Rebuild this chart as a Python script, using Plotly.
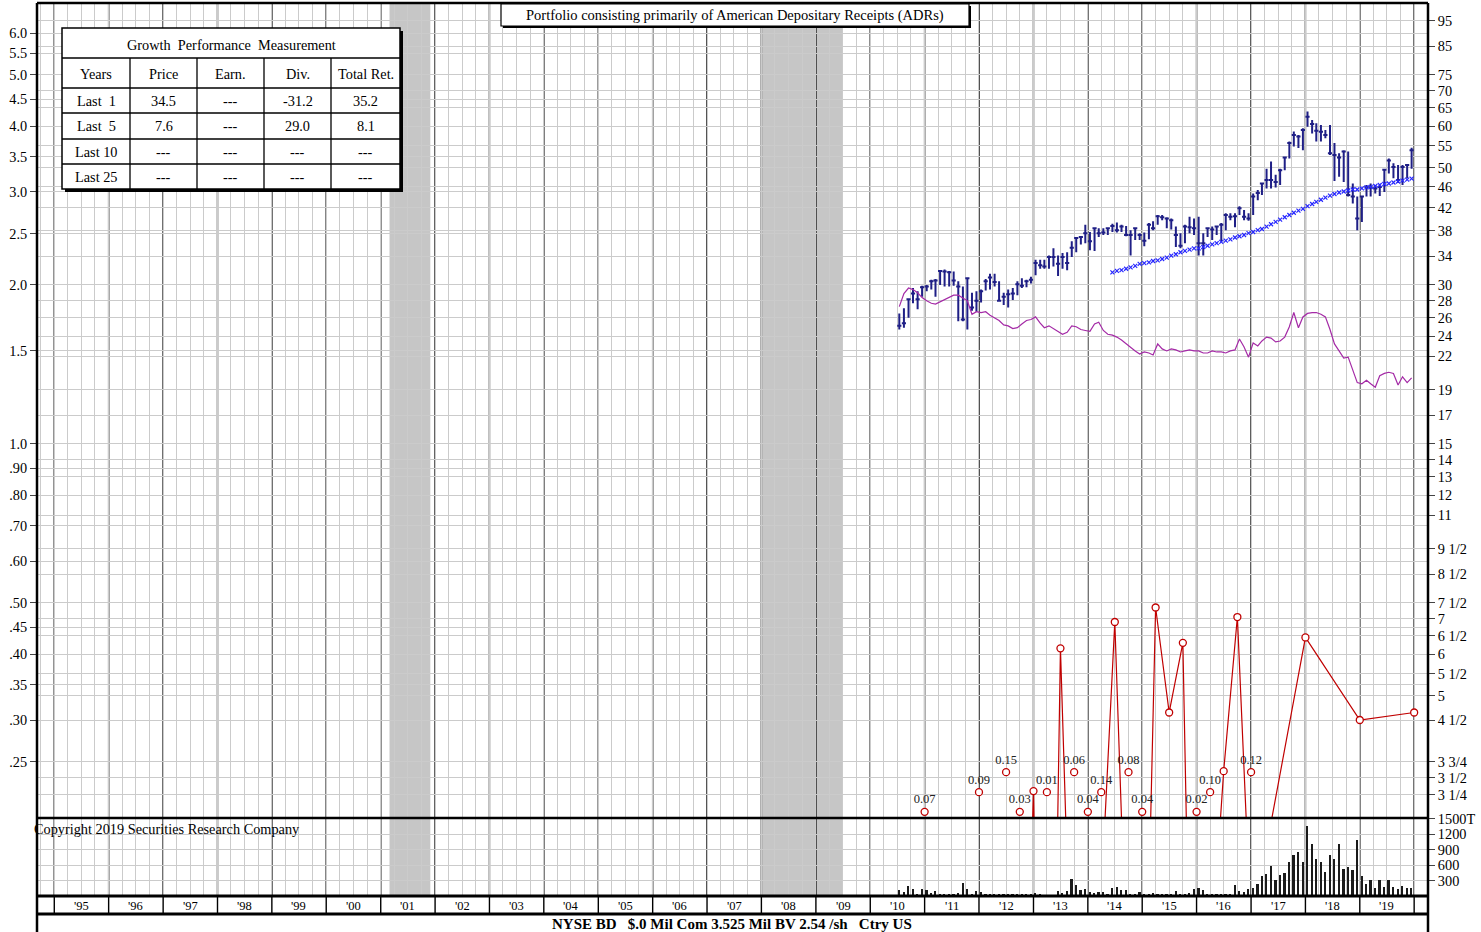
import math
import pandas as pd
import plotly.graph_objects as go

# ---------------- data ----------------
bar_months = pd.date_range("2010-07-01", periods=114, freq="MS") + pd.Timedelta(days=14)

price_high = [26.5,27.1,28.3,29.6,29.2,29.9,30.0,30.7,30.8,32.0,
              32.1,31.9,31.8,30.5,29.8,31.0,29.0,29.2,29.4,30.8,
              31.5,31.5,30.5,29.0,29.4,29.6,30.5,30.9,30.7,31.1,
              33.5,33.5,33.5,34.1,35.2,34.1,34.5,34.6,36.3,37.0,
              37.1,39.0,37.8,38.4,38.4,38.4,38.5,39.2,39.4,39.0,
              38.8,38.1,38.4,37.6,37.7,39.3,39.6,40.7,40.7,40.3,
              40.1,38.7,37.6,39.0,40.4,40.1,40.4,37.6,38.4,38.7,
              38.8,39.3,41.0,41.0,41.0,42.3,41.6,41.0,44.7,45.4,
              46.8,49.8,51.4,48.5,49.8,52.5,56.1,58.6,57.7,59.4,
              63.9,61.6,60.7,60.3,59.0,60.3,55.7,53.3,54.0,53.7,
              46.7,44.1,44.2,46.4,46.7,46.4,46.2,49.8,52.1,51.0,
              50.6,50.6,50.6,54.6]
price_low = [24.7,24.9,26.0,27.7,27.0,28.5,29.2,29.4,28.5,30.0,
             29.8,29.8,29.9,25.6,25.6,24.7,26.8,26.7,27.8,29.3,
             29.4,29.8,27.9,27.5,27.2,28.1,28.7,29.6,29.7,30.2,
             31.3,32.2,32.2,32.2,32.5,31.2,32.2,32.0,33.9,34.6,
             35.8,36.0,34.9,34.8,37.0,37.3,37.3,37.8,37.7,37.8,
             37.1,34.1,36.5,36.5,35.5,36.6,38.1,39.0,39.8,38.4,
             38.2,35.4,35.2,36.0,37.6,37.3,34.1,34.1,37.0,36.5,
             37.3,36.3,38.1,39.8,38.6,40.7,39.8,39.7,40.7,43.4,
             44.4,45.7,45.7,45.9,46.4,49.5,52.1,54.9,54.5,54.0,
             59.8,58.1,56.1,56.1,56.9,52.9,47.2,48.1,47.0,44.1,
             42.8,38.1,39.5,44.1,44.1,44.7,44.2,45.0,48.8,47.8,
             46.8,46.4,47.8,49.8]
price_close = [25.1,25.4,28.2,28.9,28.2,29.7,29.8,30.5,30.6,31.9,
               31.8,31.7,30.6,29.8,25.8,30.9,27.2,28.0,29.2,30.5,
               31.0,30.4,28.0,28.5,28.8,28.9,30.1,29.9,30.5,30.7,
               33.0,32.7,32.5,33.9,33.9,32.9,33.9,33.0,35.3,36.8,
               37.0,37.6,36.3,38.4,37.6,37.7,38.4,38.8,38.1,38.7,
               37.3,37.3,38.4,37.3,36.4,39.0,38.4,40.5,40.3,40.1,
               39.8,37.3,35.6,38.7,38.6,38.4,36.0,36.0,38.4,38.2,
               38.7,39.0,40.7,40.4,40.5,41.9,40.4,40.1,44.1,44.8,
               46.7,47.4,47.4,47.0,49.5,52.3,55.7,57.7,57.3,59.0,
               62.5,60.5,58.8,58.5,57.7,53.3,52.9,52.3,53.7,44.4,
               44.1,40.1,44.1,46.0,45.9,45.7,46.0,49.6,51.6,50.2,
               47.4,50.2,50.6,54.0]
rel_strength = [27.3,28.9,29.6,29.4,29.0,28.4,28.0,27.7,27.6,27.9,
                28.2,28.5,28.7,28.7,28.3,28.0,26.4,26.7,26.6,26.7,
                26.3,26.0,25.7,25.2,25.1,24.8,24.9,25.3,25.7,25.8,
                26.1,25.4,24.9,25.1,24.8,24.5,24.2,24.4,25.1,25.0,
                24.7,24.6,24.5,25.3,25.5,24.6,24.2,24.1,23.9,23.6,
                23.2,22.9,22.5,22.2,22.4,22.3,22.1,23.2,22.7,22.5,
                22.7,22.6,22.4,22.5,22.6,22.5,22.5,22.3,22.3,22.5,
                22.4,22.4,22.3,22.5,22.6,23.7,22.9,21.9,23.3,23.0,
                23.5,23.9,23.8,23.4,23.5,23.9,25.0,26.6,24.9,26.1,
                26.5,26.6,26.6,26.4,26.1,24.7,23.2,22.5,21.8,21.9,
                20.6,19.6,19.5,19.8,19.5,19.2,20.2,20.4,20.5,20.4,
                19.4,20.1,19.6,20.0]
volume = [116,71,194,129,40,129,110,52,97,35,
          35,25,25,50,258,135,35,103,71,30,
          25,20,20,20,20,30,25,25,20,35,
          58,35,15,15,15,90,52,90,323,206,
          116,135,84,50,77,84,40,161,181,116,
          116,40,40,77,25,25,50,25,25,35,
          35,97,45,26,58,142,161,123,45,40,
          32,45,40,32,206,100,77,142,161,239,
          380,432,593,303,400,445,658,806,851,658,
          1367,1013,722,658,464,800,722,1013,529,561,
          497,1097,380,239,303,161,303,174,316,174,
          142,187,161,161]

ma_months = pd.date_range("2014-06-01", periods=67, freq="MS") + pd.Timedelta(days=14)
moving_avg = [31.7,31.9,32.0,32.2,32.4,32.6,32.9,
              33.0,33.1,33.3,33.4,33.6,33.8,34.1,34.3,34.6,34.8,35.0,35.2,
              35.2,35.4,35.6,35.8,36.0,36.2,36.4,36.6,36.9,37.1,37.3,37.6,
              37.8,38.1,38.3,38.7,39.1,39.5,39.9,40.3,40.7,41.1,41.5,41.8,
              42.3,42.7,43.1,43.5,43.9,44.3,44.6,44.9,45.1,45.3,45.5,45.5,
              45.7,45.9,46.0,46.2,46.4,46.6,46.7,46.9,47.1,47.3,47.5,47.7]

div_dates = ["2011-01-01","2012-01-01","2012-07-01","2012-10-01","2013-01-01","2013-04-01",
             "2013-07-01","2013-10-01","2014-01-01","2014-04-01","2014-07-01","2014-10-01",
             "2015-01-01","2015-04-01","2015-07-01","2015-10-01","2016-01-01","2016-04-01",
             "2016-07-01","2016-10-01","2017-01-01","2018-01-01","2019-01-01","2020-01-01"]
div_values = [0.07,0.09,0.15,0.03,0.22,0.01,0.41,0.06,0.04,0.14,0.46,0.08,
              0.04,0.49,0.31,0.42,0.02,0.10,0.24,0.47,0.12,0.43,0.30,0.31]

right_ticks = [95,85,75,70,65,60,55,50,46,42,38,34,30,28,26,24,22,19,17,15,14,13,12,11,
               9.5,8.5,7.5,7,6.5,6,5.5,5,4.5,3.75,3.5,3.25]
right_labels = ["95","85","75","70","65","60","55","50","46","42","38","34","30","28","26","24",
                "22","19","17","15","14","13","12","11","9 1/2","8 1/2","7 1/2","7","6 1/2","6",
                "5 1/2","5","4 1/2","3 3/4","3 1/2","3 1/4"]
left_ticks = [6.0,5.5,5.0,4.5,4.0,3.5,3.0,2.5,2.0,1.5,1.0,0.9,0.8,0.7,0.6,0.5,0.45,0.4,0.35,0.3,0.25]
left_labels = ["6.0","5.5","5.0","4.5","4.0","3.5","3.0","2.5","2.0","1.5","1.0",".90",".80",
               ".70",".60",".50",".45",".40",".35",".30",".25"]
vol_ticks = [300, 600, 900, 1200, 1500]
vol_labels_left = ["300", "600", "900", "1200", "1500"]
vol_labels_right = ["300", "600", "900", "1200", "1500T"]

years = list(range(1995, 2020))
recessions = [("2001-03-01", "2001-11-30"), ("2008-01-01", "2009-06-30")]

table_header = ["Years", "Price", "Earn.", "Div.", "Total Ret."]
table_rows = [["Last  1", "34.5", "---", "-31.2", "35.2"],
              ["Last  5", "7.6", "---", "29.0", "8.1"],
              ["Last 10", "---", "---", "---", "---"],
              ["Last 25", "---", "---", "---", "---"]]

# ---------------- layout helpers ----------------
W, H = 1481, 932
L, R, T, B = 37, 1428, 3, 896
SPLIT = 818
X0, X1 = "1994-09-07", "2020-04-03"
PRICE_RANGE = (2.935, 102.6)
LEFT_RANGE = (PRICE_RANGE[0] / 15, PRICE_RANGE[1] / 15)
OFF_LEVELS = [0.201, 0.219, 0.239]
OFF_LEVEL_IDX = [0, 1, 2, 0, 1, 2, 0, 1, 2, 0, 0, 1, 2]

def px(X):
    return (X - L) / (R - L)

def py(Y):
    return (B - Y) / (B - T)

SERIF = "Liberation Serif"
GRID = "#cbcbcb"
NAVY = "#1f1f86"
RED = "#c00000"
FS = 14.3

fig = go.Figure()

fig.add_trace(go.Scatter(x=bar_months, y=rel_strength, mode="lines",
                         line=dict(color="#a42aa6", width=1.2), xaxis="x", yaxis="y",
                         hoverinfo="skip"))
fig.add_trace(go.Scatter(x=ma_months, y=moving_avg, mode="markers",
                         marker=dict(symbol="x-thin", size=4, line=dict(color="#2626ff", width=1.2)),
                         xaxis="x", yaxis="y"))
fig.add_trace(go.Ohlc(x=bar_months, open=price_close, high=price_high, low=price_low,
                      close=price_close, xaxis="x", yaxis="y", tickwidth=0.5,
                      increasing=dict(line=dict(color=NAVY, width=2)),
                      decreasing=dict(line=dict(color=NAVY, width=2))))

# dividends on the left scale
fig.add_trace(go.Scatter(x=div_dates, y=div_values, mode="lines",
                         line=dict(color=RED, width=1.2), xaxis="x", yaxis="y3"))
on_x = [d for d, v in zip(div_dates, div_values) if v >= LEFT_RANGE[0]]
on_y = [v for v in div_values if v >= LEFT_RANGE[0]]
fig.add_trace(go.Scatter(x=on_x, y=on_y, mode="markers", xaxis="x", yaxis="y3",
                         marker=dict(symbol="circle", size=7, color="white",
                                     line=dict(color=RED, width=1.3))))
off = [(d, v) for d, v in zip(div_dates, div_values) if v < LEFT_RANGE[0]]
off_x = [d for d, v in off]
off_y = [OFF_LEVELS[i] for i in OFF_LEVEL_IDX[:len(off)]]
off_t = [f"{v:.2f}" for d, v in off]
fig.add_trace(go.Scatter(x=off_x, y=off_y, mode="markers+text", text=off_t,
                         textposition="top center", xaxis="x", yaxis="y3", cliponaxis=False,
                         textfont=dict(family=SERIF, size=12.5, color="#222"),
                         marker=dict(symbol="circle", size=7, color="white",
                                     line=dict(color=RED, width=1.3))))

fig.add_trace(go.Bar(x=bar_months, y=volume, xaxis="x2", yaxis="y2",
                     marker=dict(color="#1a1a1a", line=dict(width=0)), width=1.0e9))

shapes = []
for a, b in recessions:
    shapes.append(dict(type="rect", xref="x", yref="paper", x0=a, x1=b, y0=0, y1=1,
                       fillcolor="#c6c6c6", line=dict(width=0), layer="between"))
for yr in years + [2020]:
    shapes.append(dict(type="line", xref="x", yref="paper", x0=f"{yr}-01-01", x1=f"{yr}-01-01",
                       y0=py(914), y1=1, line=dict(color="black", width=1.4), layer="between"))
# panel frame
shapes.append(dict(type="line", xref="paper", yref="paper", x0=0, x1=1, y0=1, y1=1,
                   line=dict(color="black", width=2.5)))
shapes.append(dict(type="line", xref="paper", yref="paper", x0=0, x1=1, y0=py(SPLIT), y1=py(SPLIT),
                   line=dict(color="black", width=2.5)))
shapes.append(dict(type="line", xref="paper", yref="paper", x0=0, x1=1, y0=0, y1=0,
                   line=dict(color="black", width=3)))
shapes.append(dict(type="line", xref="paper", yref="paper", x0=0, x1=1, y0=py(914), y1=py(914),
                   line=dict(color="black", width=3)))
for xx in (0, 1):
    shapes.append(dict(type="line", xref="paper", yref="paper", x0=xx, x1=xx, y0=py(932), y1=1,
                       line=dict(color="black", width=2.5)))
# title box
shapes.append(dict(type="rect", xref="paper", yref="paper", x0=px(503), x1=px(971), y0=py(28), y1=py(6),
                   fillcolor="black", line=dict(width=0), layer="above"))
shapes.append(dict(type="rect", xref="paper", yref="paper", x0=px(501), x1=px(969), y0=py(26), y1=py(4),
                   fillcolor="white", line=dict(color="black", width=1.2), layer="above"))
# table
TX = [62, 130, 197, 264, 331, 400]
TY = [28, 58, 88, 113, 139, 164, 189]
shapes.append(dict(type="rect", xref="paper", yref="paper", x0=px(TX[0] + 3), x1=px(TX[-1] + 3),
                   y0=py(TY[-1] + 3), y1=py(TY[0] + 3), fillcolor="black", line=dict(width=0), layer="above"))
shapes.append(dict(type="rect", xref="paper", yref="paper", x0=px(TX[0]), x1=px(TX[-1]),
                   y0=py(TY[-1]), y1=py(TY[0]), fillcolor="white", line=dict(color="black", width=1.5),
                   layer="above"))
for yy in TY[1:-1]:
    shapes.append(dict(type="line", xref="paper", yref="paper", x0=px(TX[0]), x1=px(TX[-1]),
                       y0=py(yy), y1=py(yy), line=dict(color="black", width=1.3), layer="above"))
for xx in TX[1:-1]:
    shapes.append(dict(type="line", xref="paper", yref="paper", x0=px(xx), x1=px(xx),
                       y0=py(TY[-1]), y1=py(TY[1]), line=dict(color="black", width=1.3), layer="above"))

ann = []

def note(text, X, Y, size=FS, xanchor="center", bold=False):
    ann.append(dict(text=f"<b>{text}</b>" if bold else text, x=px(X), y=py(Y), xref="paper",
                    yref="paper", showarrow=False, xanchor=xanchor, yanchor="middle",
                    font=dict(family=SERIF, size=size, color="black")))

note("Portfolio consisting primarily of American Depositary Receipts (ADRs)", 735, 15, size=14.5)
note("Growth\u00a0 Performance\u00a0 Measurement", (TX[0] + TX[-1]) / 2, 45, size=14.3)
centers = [(TX[i] + TX[i + 1]) / 2 for i in range(5)]
for c, h in zip(centers, table_header):
    note(h, c, 74)
for r, row in enumerate(table_rows):
    yc = (TY[r + 2] + TY[r + 3]) / 2
    for c, v in zip(centers, row):
        note(v.replace(" ", "\u00a0"), c, yc)
for yr in years:
    ann.append(dict(text=f"'{yr % 100:02d}", x=f"{yr}-07-02", xref="x", y=py(906), yref="paper",
                    showarrow=False, xanchor="center", yanchor="middle",
                    font=dict(family=SERIF, size=12.5)))
note("Copyright 2019 Securities Research Company", 32, 829, size=14.3, xanchor="left")
note("NYSE BD\u00a0\u00a0 $.0 Mil Com 3.525 Mil BV 2.54 /sh\u00a0\u00a0 Ctry US", 732, 924, size=15, bold=True)

xcommon = dict(type="date", range=[X0, X1], showticklabels=False, showgrid=True, dtick="M3",
               tick0="1995-01-01", gridcolor=GRID, gridwidth=1.2, zeroline=False, showline=False,
               ticks="", rangeslider=dict(visible=False), automargin=False)
ycommon = dict(showgrid=True, gridcolor=GRID, gridwidth=1.4, zeroline=False, showline=False,
               ticks="outside", ticklen=6, tickcolor="#444", tickfont=dict(family=SERIF, size=FS),
               automargin=False)

fig.update_layout(
    width=W, height=H, showlegend=False,
    paper_bgcolor="white", plot_bgcolor="white",
    margin=dict(l=L, r=W - R, t=T, b=H - B, autoexpand=False),
    font=dict(family=SERIF, size=FS, color="black"),
    xaxis=dict(domain=[0, 1], anchor="y", **xcommon),
    xaxis2=dict(domain=[0, 1], anchor="y2", matches="x", **xcommon),
    yaxis=dict(domain=[py(SPLIT), 1], anchor="x", type="log", side="right",
               range=[math.log10(PRICE_RANGE[0]), math.log10(PRICE_RANGE[1])],
               tickvals=right_ticks, ticktext=right_labels, **ycommon),
    yaxis3=dict(overlaying="y", anchor="x", type="log", side="left",
                range=[math.log10(LEFT_RANGE[0]), math.log10(LEFT_RANGE[1])],
                tickvals=left_ticks, ticktext=left_labels, **ycommon),
    yaxis2=dict(domain=[0, py(SPLIT)], anchor="x2", side="right", range=[0, 1519],
                tickvals=vol_ticks, ticktext=vol_labels_right, **ycommon),
    yaxis4=dict(overlaying="y2", anchor="x2", side="left", range=[0, 1519],
                tickvals=vol_ticks, ticktext=vol_labels_left, **ycommon),
    shapes=shapes, annotations=ann, bargap=0,
)

fig.write_html("out.html", config={"displayModeBar": False},
               post_script="document.body.style.margin='0';")
